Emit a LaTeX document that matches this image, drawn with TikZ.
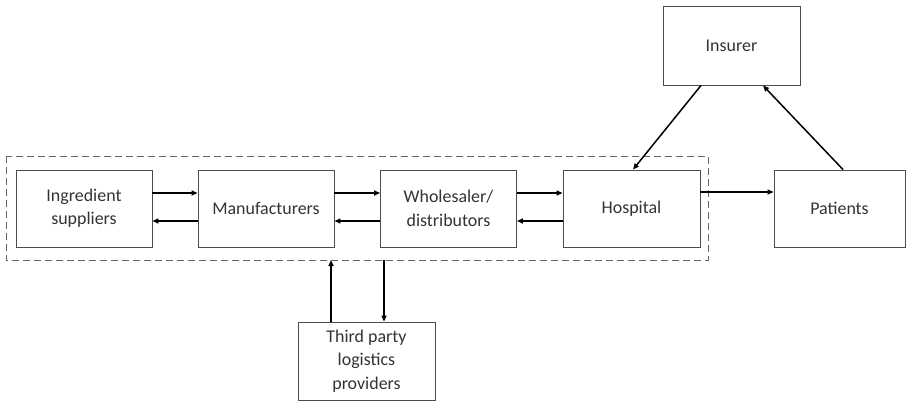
\documentclass[tikz,border=0pt]{standalone}
\usepackage{fontspec}
\setmainfont{Carlito}
\usetikzlibrary{arrows.meta}
\begin{document}
\begin{tikzpicture}[x=1bp,y=-1bp,
  box/.style={draw=black!70, line width=0.9bp, fill=white, align=center, font=\fontsize{18}{23.5}\selectfont, text=black!80, inner sep=0pt},
  arr/.style={line width=1.5bp, draw=black, -{Triangle[length=6bp,width=5bp]}},
  grp/.style={draw=black!60, line width=0.9bp, dash pattern=on 7bp off 4bp}]
\useasboundingbox (0,0) rectangle (906,403);
\draw[grp] (6,156) rectangle (708,260);
\node[box, minimum width=136bp, minimum height=77bp] (ing) at (84,208.5) {Ingredient\\suppliers};
\node[box, minimum width=136bp, minimum height=77bp] (man) at (266,208.5) {Manufacturers};
\node[box, minimum width=136bp, minimum height=77bp] (who) at (448.5,208.5) {Wholesaler/\\distributors};
\node[box, minimum width=137bp, minimum height=77bp] (hos) at (631.5,208.5) {Hospital};
\node[box, minimum width=131bp, minimum height=77bp] (pat) at (839.5,208.5) {Patients};
\node[box, minimum width=137bp, minimum height=79bp] (ins) at (731.5,45.5) {Insurer};
\node[box, minimum width=137bp, minimum height=78bp] (tpl) at (366.5,361) {Third party\\logistics\\providers};
\coordinate (gb1) at (331,260);
\coordinate (gb2) at (384,260);
% forward/back arrows
\draw[arr] (ing.east |- 0,193) -- (man.west |- 0,193);
\draw[arr] (man.west |- 0,221) -- (ing.east |- 0,221);
\draw[arr] (man.east |- 0,193) -- (who.west |- 0,193);
\draw[arr] (who.west |- 0,221) -- (man.east |- 0,221);
\draw[arr] (who.east |- 0,193) -- (hos.west |- 0,193);
\draw[arr] (hos.west |- 0,221) -- (who.east |- 0,221);
\draw[arr] (hos.east |- 0,192) -- (pat.west |- 0,192);
\draw[arr] (ins.south -| 701,0) -- (hos.north -| 633,0);
\draw[arr] (pat.north -| 843,0) -- (ins.south -| 763,0);
\draw[arr] (tpl.north -| gb1) -- (gb1);
\draw[arr] (gb2) -- (tpl.north -| gb2);
\end{tikzpicture}
\end{document}
